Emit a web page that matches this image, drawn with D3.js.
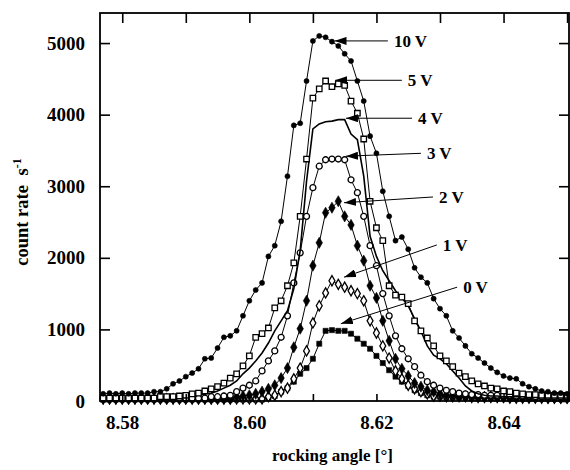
<!DOCTYPE html>
<html>

<head>
  <title>Rocking curves</title>
  <style>
    body { margin: 0; background: #fff; }
    text { font-family: "Liberation Serif", "Times New Roman", serif; font-weight: bold; fill: #000; }
  </style>
</head>

<body>
  <svg id="svg"></svg>

  <script src="https://cdn.jsdelivr.net/npm/d3@7"></script>
  <script>
    // rocking angle in degrees, one reading every 0.001
    let angles = [8.577, 8.578, 8.579, 8.580, 8.581, 8.582, 8.583, 8.584, 8.585, 8.586,
      8.587, 8.588, 8.589, 8.590, 8.591, 8.592, 8.593, 8.594, 8.595, 8.596,
      8.597, 8.598, 8.599, 8.600, 8.601, 8.602, 8.603, 8.604, 8.605, 8.606,
      8.607, 8.608, 8.609, 8.610, 8.611, 8.612, 8.613, 8.614, 8.615, 8.616,
      8.617, 8.618, 8.619, 8.620, 8.621, 8.622, 8.623, 8.624, 8.625, 8.626,
      8.627, 8.628, 8.629, 8.630, 8.631, 8.632, 8.633, 8.634, 8.635, 8.636,
      8.637, 8.638, 8.639, 8.640, 8.641, 8.642, 8.643, 8.644, 8.645, 8.646,
      8.647, 8.648, 8.649, 8.650];

    // count rate (1/s) for each voltage
    let v10 = [100, 110, 100, 110, 100, 110, 110, 110, 130, 130,
      170, 240, 280, 340, 390, 450, 590, 600, 740, 890,
      910, 980, 1190, 1400, 1550, 1650, 2020, 2170, 2510, 3140,
      3850, 3880, 4470, 5030, 5100, 5080, 5020, 4960, 4850, 4750,
      4470, 4190, 3700, 3460, 2930, 2580, 2240, 2290, 2120, 1860,
      1730, 1650, 1430, 1290, 1190, 980, 880, 770, 660, 600,
      530, 460, 400, 350, 320, 310, 240, 200, 170, 140,
      130, 110, 110, 100];
    let v5 = [40, 40, 40, 40, 40, 40, 40, 40, 40, 60,
      60, 60, 70, 80, 100, 110, 140, 170, 200, 250,
      320, 380, 490, 630, 890, 940, 1020, 1300, 1400, 1610,
      1930, 2580, 3380, 4230, 4360, 4470, 4390, 4430, 4410, 4190,
      4020, 3660, 2790, 2420, 2240, 1610, 1480, 1450, 1360, 1120,
      980, 880, 770, 630, 560, 480, 390, 340, 280, 240,
      210, 180, 170, 140, 130, 110, 100, 90, 90, 80,
      80, 80, 80, 80];
    let v4 = [40, 40, 40, 40, 40, 40, 40, 40, 40, 40,
      40, 40, 40, 60, 70, 80, 100, 110, 140, 180,
      220, 280, 380, 460, 560, 670, 810, 980, 1120, 1260,
      1570, 2100, 3070, 3800, 3870, 3900, 3910, 3930, 3930, 3730,
      3650, 3140, 2300, 2020, 1820, 1680, 1540, 1440, 1330, 1150,
      980, 770, 640, 590, 520, 420, 320, 210, 140, 100,
      80, 70, 70, 60, 60, 60, 60, 50, 50, 50,
      50, 50, 50, 50];
    let v3 = [40, 40, 40, 40, 40, 40, 40, 40, 40, 40,
      40, 40, 40, 40, 40, 40, 40, 60, 60, 70,
      80, 130, 180, 220, 280, 420, 560, 700, 890, 1190,
      1650, 2070, 2580, 2980, 3280, 3370, 3380, 3380, 3370, 3090,
      2910, 2580, 2170, 1890, 1500, 1190, 910, 730, 590, 480,
      360, 270, 220, 180, 150, 130, 110, 100, 90, 90,
      80, 80, 80, 80, 80, 70, 70, 70, 60, 60,
      60, 60, 60, 60];
    let v2 = [30, 30, 30, 30, 30, 30, 30, 30, 30, 30,
      30, 30, 30, 30, 30, 30, 30, 30, 30, 30,
      30, 60, 70, 80, 100, 130, 170, 220, 320, 460,
      750, 1010, 1400, 1890, 2210, 2630, 2700, 2790, 2580, 2460,
      2170, 1960, 1610, 1440, 1120, 840, 590, 450, 350, 250,
      200, 150, 130, 100, 80, 80, 70, 70, 70, 60,
      60, 60, 60, 50, 50, 50, 50, 50, 50, 50,
      40, 40, 40, 40];
    let v1 = [30, 30, 30, 30, 30, 30, 30, 30, 30, 30,
      30, 30, 30, 30, 30, 30, 30, 30, 30, 30,
      30, 30, 30, 30, 30, 30, 60, 80, 130, 180,
      310, 460, 700, 1090, 1330, 1510, 1680, 1630, 1590, 1540,
      1500, 1400, 1120, 950, 770, 600, 420, 310, 220, 170,
      130, 100, 70, 70, 60, 60, 60, 60, 50, 50,
      50, 50, 50, 50, 40, 40, 40, 40, 40, 40,
      40, 40, 40, 40];
    let v0 = [20, 20, 20, 20, 20, 20, 20, 20, 20, 20,
      20, 20, 20, 20, 20, 20, 20, 20, 20, 20,
      20, 20, 20, 20, 20, 20, 40, 70, 130, 180,
      270, 380, 460, 590, 800, 980, 990, 980, 980, 940,
      870, 800, 730, 630, 530, 430, 340, 270, 210, 150,
      110, 80, 60, 60, 50, 50, 50, 50, 40, 40,
      40, 40, 40, 40, 30, 30, 30, 30, 30, 30,
      30, 30, 30, 30];

    let voltages = ["10 V", "5 V", "4 V", "3 V", "2 V", "1 V", "0 V"];

    // label arrows, in data units (tip on the curve, tail at the label)
    let tipAngle = [8.6134, 8.6135, 8.6152, 8.6152, 8.6149, 8.6149, 8.6144];
    let tipCount = [5030, 4480, 3950, 3420, 2770, 1730, 1080];
    let tailAngle = [8.6218, 8.6240, 8.6256, 8.6270, 8.6289, 8.6295, 8.6327];
    let tailCount = [5030, 4480, 3950, 3460, 2850, 2180, 1590];

    let xTicks = [8.58, 8.59, 8.60, 8.61, 8.62, 8.63, 8.64, 8.65];
    let xLabels = [8.58, 8.60, 8.62, 8.64];
    let yTicks = [0, 1000, 2000, 3000, 4000, 5000];

    let width = 570, height = 470;
    let box = { left: 100, right: 569, top: 13, bottom: 401 };

    let svg = d3.select("#svg").attr("width", width).attr("height", height);

    let x = d3.scaleLinear().domain([8.5765, 8.6503]).range([box.left, box.right]);
    let y = d3.scaleLinear().domain([0, 5420]).range([box.bottom, box.top]);

    // marker style per series, drawn from 0 V up to 10 V
    let series = [
      { values: v0, symbol: d3.symbolSquare, size: 26, fill: "#000" },
      { values: v1, symbol: d3.symbolDiamond, size: 30, fill: "#fff" },
      { values: v2, symbol: d3.symbolDiamond, size: 36, fill: "#000" },
      { values: v3, symbol: d3.symbolCircle, size: 28, fill: "#fff" },
      { values: v4, symbol: null },
      { values: v5, symbol: d3.symbolSquare, size: 30, fill: "#fff" },
      { values: v10, symbol: d3.symbolCircle, size: 20, fill: "#000" }
    ];

    svg.append("defs").append("marker")
      .attr("id", "head")
      .attr("viewBox", "0 0 12 8")
      .attr("refX", 12).attr("refY", 4)
      .attr("markerWidth", 12).attr("markerHeight", 8)
      .attr("markerUnits", "userSpaceOnUse")
      .attr("orient", "auto")
      .append("path").attr("d", "M0,0L12,4L0,8Z").attr("fill", "#000");

    let line = d3.line().x((d, i) => x(angles[i])).y(d => y(d));

    let plot = svg.append("g");
    series.forEach(s => {
      plot.append("path")
        .attr("d", line(s.values))
        .attr("fill", "none")
        .attr("stroke", "#000")
        .attr("stroke-width", s.symbol ? 1 : 1.6);
      if (!s.symbol) return;
      plot.append("g").selectAll("path")
        .data(s.values)
        .join("path")
        .attr("transform", (d, i) => `translate(${x(angles[i])},${y(d)})`)
        .attr("d", d3.symbol().type(s.symbol).size(s.size))
        .attr("fill", s.fill)
        .attr("stroke", "#000")
        .attr("stroke-width", s.fill === "#fff" ? 1.3 : 0.6);
    });

    // arrows and labels
    let notes = svg.append("g");
    voltages.forEach((v, i) => {
      notes.append("line")
        .attr("x1", x(tailAngle[i])).attr("y1", y(tailCount[i]))
        .attr("x2", x(tipAngle[i])).attr("y2", y(tipCount[i]))
        .attr("stroke", "#000").attr("stroke-width", 1)
        .attr("marker-end", "url(#head)");
      notes.append("text")
        .attr("x", x(tailAngle[i]) + 6)
        .attr("y", y(tailCount[i]))
        .attr("dy", "0.35em")
        .attr("font-size", 17)
        .text(v);
    });

    // frame and inward ticks
    svg.append("rect")
      .attr("x", box.left).attr("y", box.top)
      .attr("width", box.right - box.left).attr("height", box.bottom - box.top)
      .attr("fill", "none").attr("stroke", "#000").attr("stroke-width", 1.8);

    let axes = svg.append("g");

    axes.append("g")
      .attr("transform", `translate(0,${box.bottom})`)
      .call(d3.axisBottom(x).tickValues(xTicks).tickSize(-7).tickPadding(15)
        .tickFormat(d => xLabels.includes(d) ? d.toFixed(2) : ""));
    axes.append("g")
      .attr("transform", `translate(0,${box.top})`)
      .call(d3.axisTop(x).tickValues(xTicks).tickSize(-10).tickFormat(""));
    axes.append("g")
      .attr("transform", `translate(${box.left},0)`)
      .call(d3.axisLeft(y).tickValues(yTicks).tickSize(-10).tickPadding(15).tickFormat(d3.format("d")));
    axes.append("g")
      .attr("transform", `translate(${box.right},0)`)
      .call(d3.axisRight(y).tickValues(yTicks).tickSize(-10).tickFormat(""));

    axes.selectAll(".domain").remove();
    axes.selectAll(".tick line").attr("stroke", "#000").attr("stroke-width", 1.6);
    axes.selectAll("g").attr("font-family", null).attr("font-size", 19);
    axes.selectAll("text").attr("fill", "#000");

    // axis titles
    svg.append("text")
      .attr("x", (box.left + box.right) / 2 - 2)
      .attr("y", 461)
      .attr("text-anchor", "middle")
      .attr("font-size", 17)
      .text("rocking angle [°]");

    let yTitle = svg.append("text")
      .attr("transform", "translate(28,212) rotate(-90)")
      .attr("text-anchor", "middle")
      .attr("font-size", 18.5);
    yTitle.append("tspan").text("count rate ");
    yTitle.append("tspan").attr("dx", 5).text("s");
    yTitle.append("tspan").attr("dy", -7).attr("font-size", 12).text("-1");

  </script>
</body>

</html>
